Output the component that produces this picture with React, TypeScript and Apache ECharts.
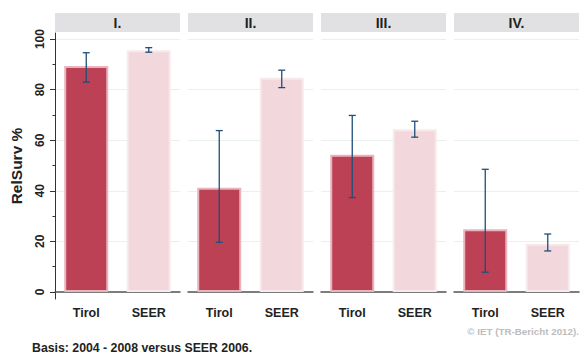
import React, { useEffect, useRef } from "react";
import * as echarts from "echarts";

const stages = ["I.", "II.", "III.", "IV."];
const groups = ["Tirol", "SEER"];
const tirolValues = [89.3, 41.2, 54.2, 24.8];
const tirolLower = [83.0, 19.6, 37.3, 7.8];
const tirolUpper = [94.6, 63.8, 69.8, 48.5];
const seerValues = [95.6, 84.7, 64.3, 19.1];
const seerLower = [94.8, 80.8, 61.2, 16.2];
const seerUpper = [96.6, 87.7, 67.5, 22.9];
const yTicks = [0, 20, 40, 60, 80, 100];
const yMinorTicks = [10, 30, 50, 70, 90];

const FONT = "'Liberation Sans', Arial, sans-serif";
const PANEL_LEFT = 55;
const PANEL_W = 125;
const PANEL_STEP = 133;
const GRID_TOP = 33;
const GRID_H = 266;

export default function App() {
  const ref = useRef<HTMLDivElement>(null);
  useEffect(() => {
    document.body.style.margin = "0";
    const chart = echarts.init(ref.current!, undefined, { renderer: "svg" });
    const grids: any[] = [];
    const xAxes: any[] = [];
    const yAxes: any[] = [];
    const series: any[] = [];
    const graphics: any[] = [];
    stages.forEach((st, i) => {
      const left = PANEL_LEFT + i * PANEL_STEP;
      grids.push({ left, top: GRID_TOP, width: PANEL_W, height: GRID_H });
      xAxes.push({
        type: "category",
        gridIndex: i,
        data: groups,
        axisLine: { lineStyle: { color: "#555", width: 1.5 } },
        axisTick: { alignWithLabel: true, length: 5, lineStyle: { color: "#555" } },
        axisLabel: { fontFamily: FONT, fontWeight: "bold", fontSize: 12.5, color: "#222", margin: 7 },
        splitLine: { show: false },
      });
      yAxes.push({
        type: "value",
        gridIndex: i,
        min: -2.8,
        max: 102.4,
        show: i === 0,
        name: i === 0 ? "RelSurv %" : "",
        nameLocation: "middle",
        nameRotate: 90,
        nameGap: 31,
        nameTextStyle: { fontFamily: FONT, fontWeight: "bold", fontSize: 15.5, color: "#222" },
        axisLine: { show: true, lineStyle: { color: "#333", width: 1 } },
        axisTick: { show: true, length: 5, customValues: yTicks, lineStyle: { color: "#333" } },
        axisLabel: {
          customValues: yTicks,
          rotate: 90,
          margin: 9,
          fontFamily: FONT,
          fontWeight: "bold",
          fontSize: 12,
          color: "#222",
        },
        splitLine: { show: false },
      });
      graphics.push({
        type: "rect",
        shape: { x: left, y: 13, width: PANEL_W, height: 19 },
        style: { fill: "#E1E1E3" },
      });
      graphics.push({
        type: "text",
        x: left + PANEL_W / 2,
        y: 23,
        style: {
          text: st,
          font: `bold 14px ${FONT}`,
          fill: "#222",
          textAlign: "center",
          textVerticalAlign: "middle",
        },
      });
      series.push({
        type: "bar",
        xAxisIndex: i,
        yAxisIndex: i,
        barWidth: 44,
        data: [
          { value: tirolValues[i], itemStyle: { color: "#BD4154", borderColor: "#E9B3BD", borderWidth: 2 } },
          { value: seerValues[i], itemStyle: { color: "#F2D8DD", borderColor: "#F8E9EC", borderWidth: 2 } },
        ],
        markLine: {
          silent: true,
          symbol: "none",
          label: { show: false },
          lineStyle: { color: "#EAF0F0", width: 1, type: "solid" },
          data: yTicks.map((v) => ({ yAxis: v })),
          z: 0,
        },
        z: 2,
      });
      series.push({
        type: "custom",
        xAxisIndex: i,
        yAxisIndex: i,
        data: [
          [0, tirolLower[i], tirolUpper[i]],
          [1, seerLower[i], seerUpper[i]],
        ],
        renderItem: (params: any, api: any) => {
          const x = api.value(0);
          const lo = api.coord([x, api.value(1)]);
          const hi = api.coord([x, api.value(2)]);
          const cap = 3.5;
          const style = { stroke: "#1F4E79", lineWidth: 1.3 };
          return {
            type: "group",
            children: [
              { type: "line", shape: { x1: lo[0], y1: lo[1], x2: hi[0], y2: hi[1] }, style },
              { type: "line", shape: { x1: lo[0] - cap, y1: lo[1], x2: lo[0] + cap, y2: lo[1] }, style },
              { type: "line", shape: { x1: hi[0] - cap, y1: hi[1], x2: hi[0] + cap, y2: hi[1] }, style },
            ],
          };
        },
        z: 5,
      });
    });
    // minor ticks on first panel
    yAxes.push({
      type: "value",
      gridIndex: 0,
      min: -2.8,
      max: 102.4,
      position: "left",
      axisLine: { show: false },
      axisTick: { show: true, length: 2.5, customValues: yMinorTicks, lineStyle: { color: "#333" } },
      axisLabel: { show: false },
      splitLine: { show: false },
    });
    graphics.push({
      type: "text",
      x: 32,
      y: 348,
      style: {
        text: "Basis: 2004 - 2008 versus SEER 2006.",
        font: `bold 12.3px ${FONT}`,
        fill: "#222",
        textAlign: "left",
        textVerticalAlign: "middle",
      },
    });
    graphics.push({
      type: "text",
      x: 579,
      y: 331,
      style: {
        text: "© IET (TR-Bericht 2012).",
        font: `bold 9.8px ${FONT}`,
        fill: "#BDBDBD",
        textAlign: "right",
        textVerticalAlign: "middle",
      },
    });
    chart.setOption({
      animation: false,
      backgroundColor: "#fff",
      grid: grids,
      xAxis: xAxes,
      yAxis: yAxes,
      series,
      graphic: graphics,
    });
    return () => chart.dispose();
  }, []);
  return <div ref={ref} style={{ width: 587, height: 356 }} />;
}
